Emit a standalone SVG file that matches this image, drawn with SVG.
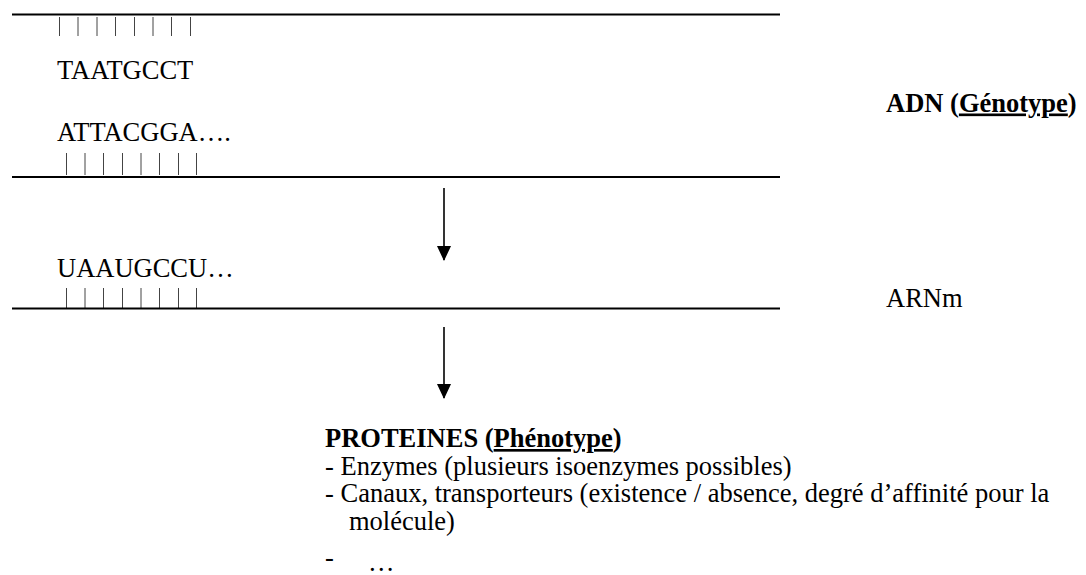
<svg xmlns="http://www.w3.org/2000/svg" width="1086" height="575" viewBox="0 0 1086 575">
<defs>
<style>
text{font-family:"Liberation Serif","Times New Roman",serif;font-size:26.5px;fill:#000}
.b{font-weight:bold}
.strand{stroke:#000;stroke-width:2}
.tick{stroke:#444;stroke-width:1}
.arrow{stroke:#000;stroke-width:1.6}
</style>
<marker id="ah" markerWidth="15" markerHeight="14" viewBox="0 0 15 14" refX="14" refY="7" orient="auto" markerUnits="userSpaceOnUse">
<path d="M0,0 L15,7 L0,14 z" fill="#000"/>
</marker>
</defs>
<rect width="1086" height="575" fill="#fff"/>
<g id="adn">
<line class="strand" x1="12" y1="14.5" x2="780" y2="14.5"/>
<path class="tick" d="M59.5,17V36M78,17V36M97,17V36M115.5,17V36M134.5,17V36M153,17V36M171.5,17V36M190.5,17V36"/>
<text x="57" y="79">TAATGCCT</text>
<text x="57" y="140.5">ATTACGGA….</text>
<path class="tick" d="M66.5,153V175M85,153V175M103.5,153V175M122.5,153V175M141,153V175M159.5,153V175M178.5,153V175M196.5,153V175"/>
<line class="strand" x1="12" y1="177" x2="780" y2="177"/>
<text class="b" x="886" y="111.5">ADN (<tspan text-decoration="underline">Génotype</tspan>)</text>
</g>
<g id="arnm">
<text x="57" y="277">UAAUGCCU…</text>
<path class="tick" d="M66.5,288V308M85,288V308M103.5,288V308M122.5,288V308M141,288V308M159.5,288V308M178.5,288V308M196.5,288V308"/>
<line class="strand" x1="12" y1="308.5" x2="780" y2="308.5"/>
<text x="886" y="307">ARNm</text>
</g>
<g id="proteines">
<text class="b" x="325" y="447">PROTEINES (<tspan text-decoration="underline">Phénotype</tspan>)</text>
<text x="325" y="475">- Enzymes (plusieurs isoenzymes possibles)</text>
<text x="325" y="502">- Canaux, transporteurs (existence / absence, degré d’affinité pour la</text>
<text x="349" y="530">molécule)</text>
<text x="325" y="566">-</text>
<text x="368" y="571">…</text>
</g>
<g id="connectors">
<line class="arrow" x1="444" y1="188" x2="444" y2="260" marker-end="url(#ah)"/>
<line class="arrow" x1="444" y1="327" x2="444" y2="398" marker-end="url(#ah)"/>
</g>
</svg>
